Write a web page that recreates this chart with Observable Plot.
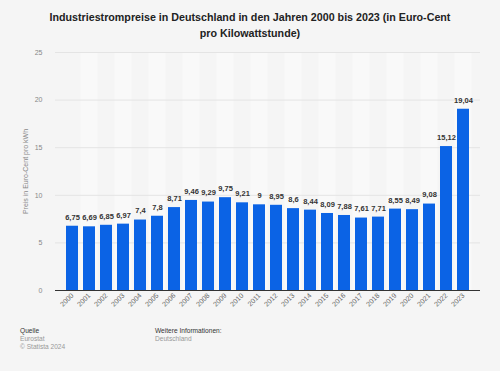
<!DOCTYPE html>
<html>
<head>
<meta charset="utf-8">
<script src="https://cdn.jsdelivr.net/npm/d3@7"></script>
<script src="https://cdn.jsdelivr.net/npm/@observablehq/plot@0.6"></script>
<style>
  html, body { margin: 0; padding: 0; background: #f5f5f5; width: 500px; height: 371px; overflow: hidden; font-family: "Liberation Sans", Arial, sans-serif; }
  #title { position: absolute; left: 0; top: 9px; width: 500px; text-align: center; font-weight: bold; font-size: 10.7px; line-height: 16px; color: #222; }
  #chart { position: absolute; left: 0; top: 44px; }
  .foot { position: absolute; top: 327px; font-size: 6.6px; line-height: 8px; color: #999; }
  .foot b { font-weight: normal; color: #333; }
</style>
</head>
<body>
<div id="title">Industriestrompreise in Deutschland in den Jahren 2000 bis 2023 (in Euro-Cent<br>pro Kilowattstunde)</div>
<div id="chart"></div>
<div class="foot" style="left:20px"><b>Quelle</b><br>Eurostat<br>© Statista 2024</div>
<div class="foot" style="left:155px"><b>Weitere Informationen:</b><br>Deutschland</div>
<script>
const years = ["2000","2001","2002","2003","2004","2005","2006","2007","2008","2009","2010","2011","2012","2013","2014","2015","2016","2017","2018","2019","2020","2021","2022","2023"];
const prices = [6.75,6.69,6.85,6.97,7.4,7.8,8.71,9.46,9.29,9.75,9.21,9,8.95,8.6,8.44,8.09,7.88,7.61,7.71,8.55,8.49,9.08,15.12,19.04];
const yTicks = [0,5,10,15,20,25];
const yMax = 25;

const data = years.map((y, i) => ({year: y, value: prices[i], odd: i % 2 === 1}));
const fmt = v => String(v).replace(".", ",");

const chart = Plot.plot({
  width: 500,
  height: 280,
  marginLeft: 55,
  marginRight: 20,
  marginTop: 8,
  marginBottom: 34,
  style: { background: "transparent", fontFamily: "Liberation Sans, Arial, sans-serif" },
  x: { domain: years, paddingInner: 0.27, paddingOuter: 0.13, label: null, tickSize: 0, tickRotate: -45, tickPadding: 4 },
  y: { domain: [0, yMax], ticks: yTicks, label: null, tickSize: 0, tickPadding: 13 },
  marks: [
    Plot.barY(data.filter(d => d.odd), {x: "year", y1: 0, y2: yMax, fill: "#f9f9f9", insetLeft: -2.4, insetRight: -2.4}),
    Plot.gridY(yTicks, {stroke: "#e4e4e4", strokeOpacity: 1, strokeWidth: 1}),
    Plot.barY(data, {x: "year", y: "value", fill: "#0b63e5"}),
    Plot.ruleY([0], {stroke: "#333", strokeWidth: 1}),
    Plot.text(data, {x: "year", y: "value", text: d => fmt(d.value), dy: -9, fontWeight: "bold", fontSize: 7.5, fill: "#333"}),
    Plot.axisX({tickRotate: -45, tickSize: 0, tickPadding: 4, fontSize: 7, fill: "#666", label: null}),
    Plot.axisY({ticks: yTicks, tickSize: 0, tickPadding: 13, fontSize: 7, fill: "#888", label: null}),
    Plot.text(["Preis in Euro-Cent pro kWh"], {frameAnchor: "left", textAnchor: "middle", dx: -30, rotate: -90, fontSize: 7, fill: "#888"})
  ]
});
document.getElementById("chart").appendChild(chart);
</script>
</body>
</html>
